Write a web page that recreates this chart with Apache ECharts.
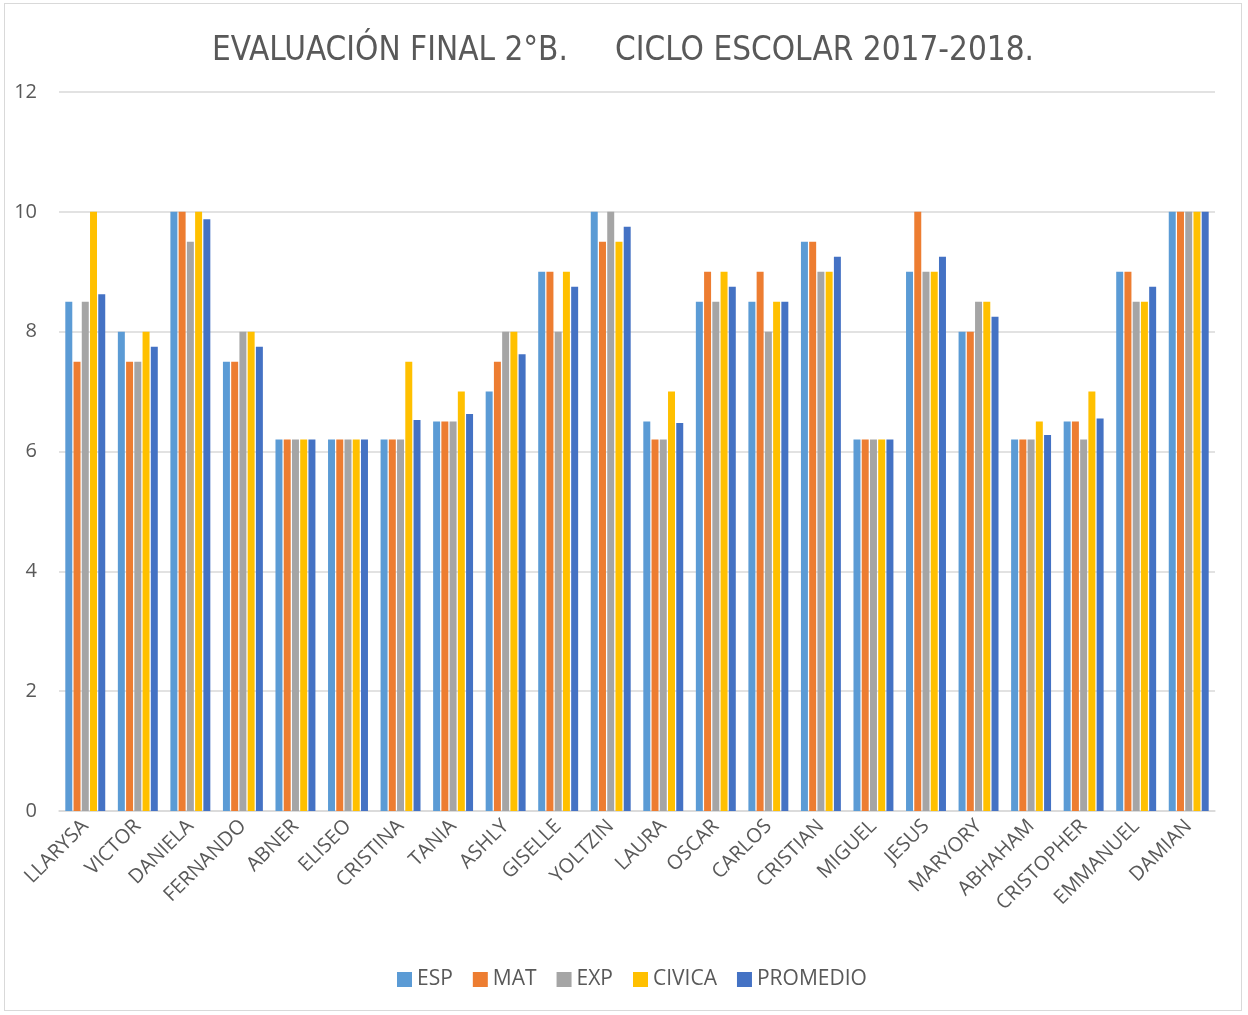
<!DOCTYPE html>
<html lang="es">
<head>
    <meta charset="UTF-8">
    <title>Evaluación final 2°B</title>
    <script src="https://cdn.jsdelivr.net/npm/echarts@6/dist/echarts.min.js"></script>
    <style>
        html, body { margin: 0; padding: 0; background: #fff; }
        #main { position: absolute; left: 4px; top: 3px; width: 1238px; height: 1008px; border: 1px solid #d9d9d9; box-sizing: border-box; }
    </style>
</head>
<body>
<div id="main"></div>
<script type="text/javascript">
    // alumnos
    var alumnos = ['LLARYSA', 'VICTOR', 'DANIELA', 'FERNANDO', 'ABNER', 'ELISEO', 'CRISTINA', 'TANIA', 'ASHLY', 'GISELLE', 'YOLTZIN',
        'LAURA', 'OSCAR', 'CARLOS', 'CRISTIAN', 'MIGUEL', 'JESUS', 'MARYORY', 'ABHAHAM', 'CRISTOPHER', 'EMMANUEL', 'DAMIAN'];
    // calificaciones por materia
    var esp = [8.5, 8, 10, 7.5, 6.2, 6.2, 6.2, 6.5, 7, 9, 10, 6.5, 8.5, 8.5, 9.5, 6.2, 9, 8, 6.2, 6.5, 9, 10];
    var mat = [7.5, 7.5, 10, 7.5, 6.2, 6.2, 6.2, 6.5, 7.5, 9, 9.5, 6.2, 9, 9, 9.5, 6.2, 10, 8, 6.2, 6.5, 9, 10];
    var exp = [8.5, 7.5, 9.5, 8, 6.2, 6.2, 6.2, 6.5, 8, 8, 10, 6.2, 8.5, 8, 9, 6.2, 9, 8.5, 6.2, 6.2, 8.5, 10];
    var civica = [10, 8, 10, 8, 6.2, 6.2, 7.5, 7, 8, 9, 9.5, 7, 9, 8.5, 9, 6.2, 9, 8.5, 6.5, 7, 8.5, 10];
    var promedio = [8.625, 7.75, 9.875, 7.75, 6.2, 6.2, 6.525, 6.625, 7.625, 8.75, 9.75, 6.475, 8.75, 8.5, 9.25, 6.2, 9.25, 8.25, 6.275, 6.55, 8.75, 10];

    var colores = ['#5B9BD5', '#ED7D31', '#A5A5A5', '#FFC000', '#4472C4'];
    var nombres = ['ESP', 'MAT', 'EXP', 'CIVICA', 'PROMEDIO'];
    var datos = [esp, mat, exp, civica, promedio];

    var series = [];
    for (var i = 0; i < nombres.length; i++) {
        series.push({
            name: nombres[i],
            type: 'bar',
            data: datos[i],
            barGap: '18%',
            barCategoryGap: '24%',
            itemStyle: { color: colores[i] }
        });
    }

    var myChart = echarts.init(document.getElementById('main'));
    var option = {
        color: colores,
        title: {
            text: 'EVALUACIÓN FINAL 2°B.     CICLO ESCOLAR 2017-2018.',
            left: 'center',
            top: 26,
            textStyle: { fontFamily: 'DejaVu Sans Condensed, Liberation Sans, sans-serif', fontSize: 33, fontWeight: 'normal', color: '#595959' }
        },
        legend: {
            data: nombres,
            bottom: 15,
            left: 387,
            icon: 'rect',
            itemWidth: 15,
            itemHeight: 15,
            itemGap: 20,
            textStyle: { fontFamily: 'Open Sans, sans-serif', fontSize: 21, color: '#595959' }
        },
        grid: { left: 54, right: 26, top: 88, bottom: 199 },
        xAxis: {
            type: 'category',
            data: alumnos,
            axisLine: { lineStyle: { color: '#d9d9d9', width: 1.5 } },
            axisTick: { show: false },
            axisLabel: { rotate: 45, interval: 0, margin: 12, fontFamily: 'Open Sans, sans-serif', fontSize: 20, color: '#595959' }
        },
        yAxis: {
            type: 'value',
            min: 0,
            max: 12,
            interval: 2,
            axisLine: { show: false },
            axisTick: { show: false },
            splitLine: { lineStyle: { color: '#d9d9d9', width: 1.5 } },
            axisLabel: { margin: 22, fontFamily: 'Open Sans, sans-serif', fontSize: 20, color: '#595959' }
        },
        series: series
    };
    myChart.setOption(option);
</script>
</body>
</html>
